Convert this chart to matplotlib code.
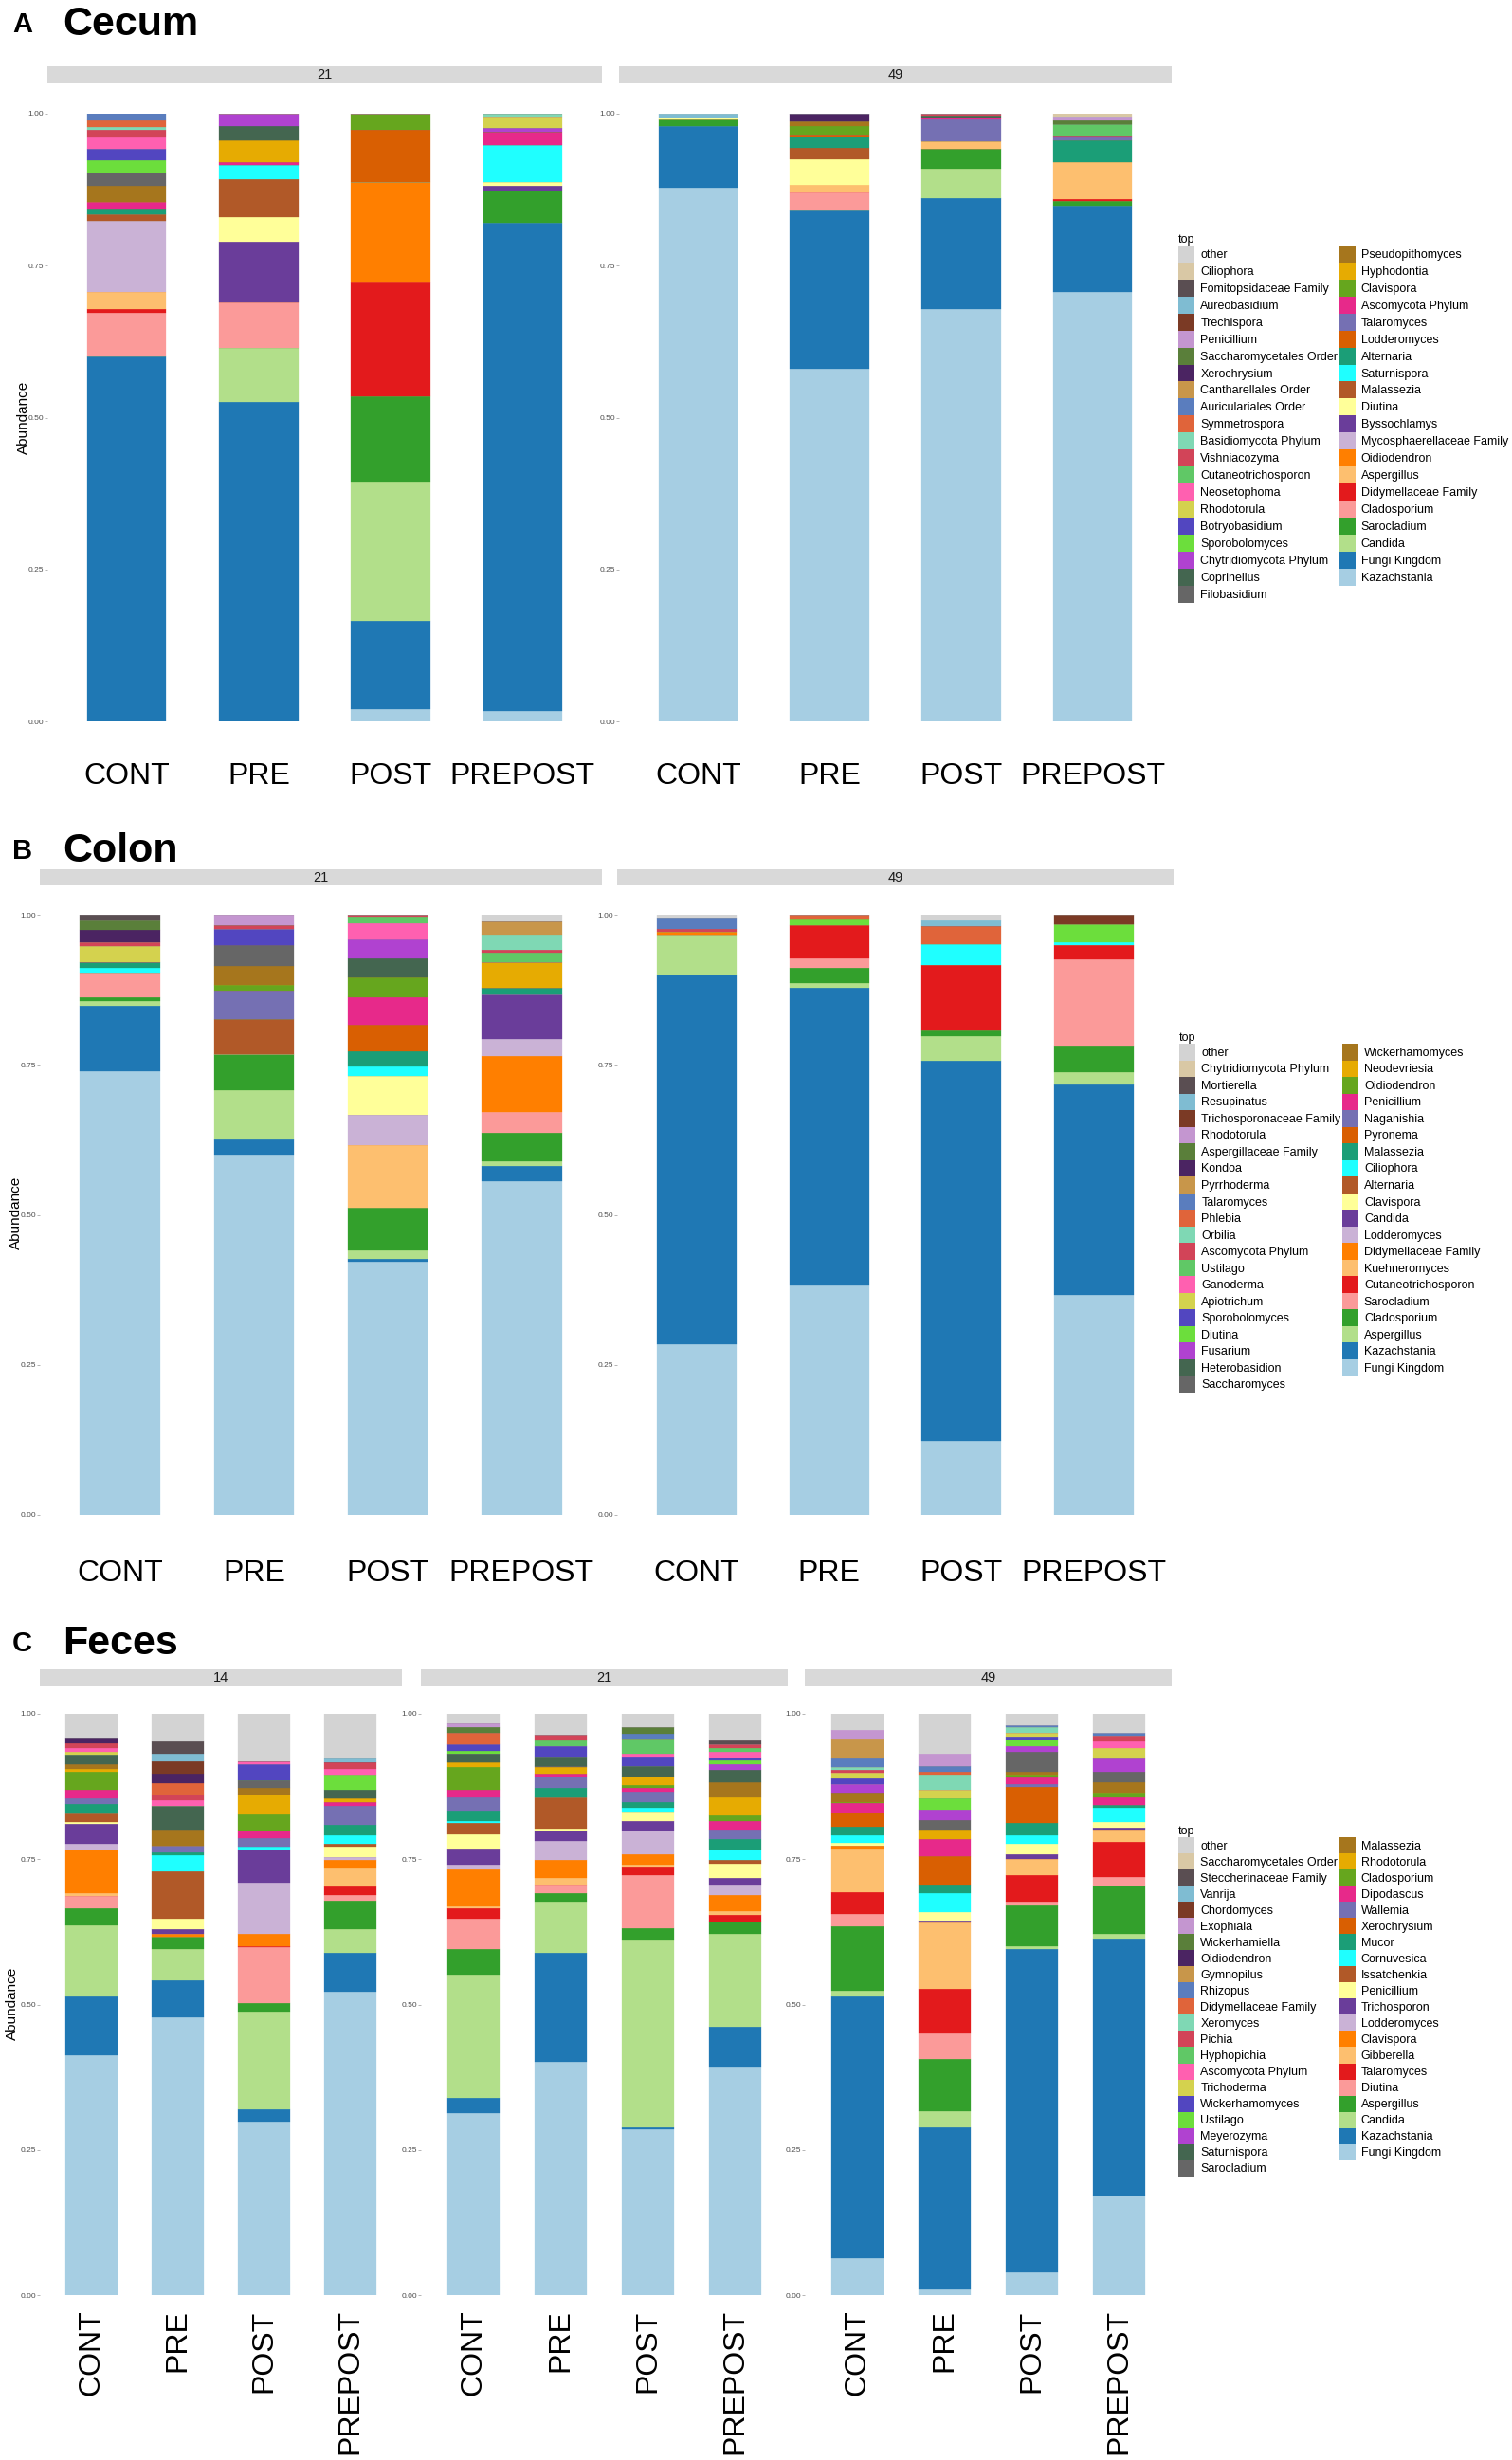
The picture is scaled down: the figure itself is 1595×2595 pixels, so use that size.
import matplotlib
matplotlib.use("Agg")
import matplotlib.pyplot as plt
from matplotlib.patches import Patch

plt.rcParams['font.family'] = ['Liberation Sans', 'DejaVu Sans']

W, H = 1595, 2595

## colours, in legend order (first = top of every stack)
palette = ["#D3D3D3", "#D9C8A5", "#5A4E52", "#7FBCD2", "#7B3A25", "#C496D0",
           "#5A7F3A", "#4B2462", "#C8964A", "#5A7DBE", "#E0643A", "#7FD8B4",
           "#D24458", "#60C866", "#FF60B0", "#D4D24E", "#5246C0", "#6CDE3C",
           "#B042D0", "#446650", "#666666",
           "#A6761D", "#E6AB02", "#66A61E", "#E7298A", "#7570B3", "#D95F02",
           "#1B9E77", "#1FFFFF", "#B15928", "#FFFF99", "#6A3D9A", "#CAB2D6",
           "#FF7F00", "#FDBF6F", "#E31A1C", "#FB9A99", "#33A02C", "#B2DF8A",
           "#1F78B4", "#A6CEE3"]

groups = ["CONT", "PRE", "POST", "PREPOST"]

cecum_taxa = ["other", "Ciliophora", "Fomitopsidaceae Family", "Aureobasidium",
              "Trechispora", "Penicillium", "Saccharomycetales Order", "Xerochrysium",
              "Cantharellales Order", "Auriculariales Order", "Symmetrospora",
              "Basidiomycota Phylum", "Vishniacozyma", "Cutaneotrichosporon",
              "Neosetophoma", "Rhodotorula", "Botryobasidium", "Sporobolomyces",
              "Chytridiomycota Phylum", "Coprinellus", "Filobasidium",
              "Pseudopithomyces", "Hyphodontia", "Clavispora", "Ascomycota Phylum",
              "Talaromyces", "Lodderomyces", "Alternaria", "Saturnispora", "Malassezia",
              "Diutina", "Byssochlamys", "Mycosphaerellaceae Family", "Oidiodendron",
              "Aspergillus", "Didymellaceae Family", "Cladosporium", "Sarocladium",
              "Candida", "Fungi Kingdom", "Kazachstania"]

colon_taxa = ["other", "Chytridiomycota Phylum", "Mortierella", "Resupinatus",
              "Trichosporonaceae Family", "Rhodotorula", "Aspergillaceae Family", "Kondoa",
              "Pyrrhoderma", "Talaromyces", "Phlebia", "Orbilia", "Ascomycota Phylum",
              "Ustilago", "Ganoderma", "Apiotrichum", "Sporobolomyces", "Diutina",
              "Fusarium", "Heterobasidion", "Saccharomyces",
              "Wickerhamomyces", "Neodevriesia", "Oidiodendron", "Penicillium",
              "Naganishia", "Pyronema", "Malassezia", "Ciliophora", "Alternaria",
              "Clavispora", "Candida", "Lodderomyces", "Didymellaceae Family",
              "Kuehneromyces", "Cutaneotrichosporon", "Sarocladium", "Cladosporium",
              "Aspergillus", "Kazachstania", "Fungi Kingdom"]

feces_taxa = ["other", "Saccharomycetales Order", "Steccherinaceae Family", "Vanrija",
              "Chordomyces", "Exophiala", "Wickerhamiella", "Oidiodendron", "Gymnopilus",
              "Rhizopus", "Didymellaceae Family", "Xeromyces", "Pichia", "Hyphopichia",
              "Ascomycota Phylum", "Trichoderma", "Wickerhamomyces", "Ustilago",
              "Meyerozyma", "Saturnispora", "Sarocladium",
              "Malassezia", "Rhodotorula", "Cladosporium", "Dipodascus", "Wallemia",
              "Xerochrysium", "Mucor", "Cornuvesica", "Issatchenkia", "Penicillium",
              "Trichosporon", "Lodderomyces", "Clavispora", "Gibberella", "Talaromyces",
              "Diutina", "Aspergillus", "Candida", "Kazachstania", "Fungi Kingdom"]

## ---- Cecum ----
cecum_21_cont = {"Fungi Kingdom": .600, "Cladosporium": .073, "Didymellaceae Family": .006,
                 "Aspergillus": .028, "Mycosphaerellaceae Family": .117, "Malassezia": .010,
                 "Alternaria": .010, "Ascomycota Phylum": .011, "Pseudopithomyces": .026,
                 "Filobasidium": .022, "Sporobolomyces": .020, "Botryobasidium": .020,
                 "Neosetophoma": .018, "Vishniacozyma": .013, "Basidiomycota Phylum": .004,
                 "Symmetrospora": .011, "Auriculariales Order": .011}
cecum_21_pre = {"Fungi Kingdom": .525, "Candida": .090, "Cladosporium": .074,
                "Byssochlamys": .101, "Diutina": .040, "Malassezia": .063,
                "Saturnispora": .022, "Ascomycota Phylum": .006, "Hyphodontia": .035,
                "Coprinellus": .024, "Chytridiomycota Phylum": .020}
cecum_21_post = {"Kazachstania": .020, "Fungi Kingdom": .145, "Candida": .229,
                 "Sarocladium": .141, "Didymellaceae Family": .187, "Oidiodendron": .165,
                 "Lodderomyces": .087, "Clavispora": .026}
cecum_21_prepost = {"Kazachstania": .017, "Fungi Kingdom": .804, "Sarocladium": .052,
                    "Byssochlamys": .009, "Diutina": .006, "Saturnispora": .061,
                    "Ascomycota Phylum": .022, "Chytridiomycota Phylum": .006,
                    "Rhodotorula": .019, "Basidiomycota Phylum": .004}
cecum_49_cont = {"Kazachstania": .878, "Fungi Kingdom": .101, "Sarocladium": .012,
                 "Diutina": .003, "Aureobasidium": .006}
cecum_49_pre = {"Kazachstania": .581, "Fungi Kingdom": .260, "Cladosporium": .030,
                "Aspergillus": .012, "Diutina": .042, "Malassezia": .019, "Alternaria": .019,
                "Lodderomyces": .003, "Clavispora": .013, "Pseudopithomyces": .009,
                "Xerochrysium": .012}
cecum_49_post = {"Kazachstania": .679, "Fungi Kingdom": .182, "Candida": .049,
                 "Sarocladium": .032, "Aspergillus": .012, "Talaromyces": .036,
                 "Ascomycota Phylum": .004, "Vishniacozyma": .003, "Coprinellus": .003}
cecum_49_prepost = {"Kazachstania": .707, "Fungi Kingdom": .141, "Sarocladium": .009,
                    "Didymellaceae Family": .003, "Aspergillus": .060, "Alternaria": .037,
                    "Talaromyces": .004, "Ascomycota Phylum": .003,
                    "Cutaneotrichosporon": .019, "Saccharomycetales Order": .006,
                    "Penicillium": .007, "Ciliophora": .004}

## ---- Colon ----
colon_21_cont = {"Fungi Kingdom": .739, "Kazachstania": .110, "Aspergillus": .008,
                 "Cladosporium": .006, "Sarocladium": .040, "Ciliophora": .009,
                 "Malassezia": .009, "Apiotrichum": .027, "Ascomycota Phylum": .006,
                 "Kondoa": .020, "Aspergillaceae Family": .017, "Mortierella": .009}
colon_21_pre = {"Fungi Kingdom": .601, "Kazachstania": .024, "Aspergillus": .083,
                "Cladosporium": .060, "Alternaria": .059, "Naganishia": .047,
                "Oidiodendron": .009, "Wickerhamomyces": .031, "Saccharomyces": .035,
                "Sporobolomyces": .027, "Ascomycota Phylum": .006, "Rhodotorula": .018}
colon_21_post = {"Fungi Kingdom": .422, "Kazachstania": .004, "Aspergillus": .014,
                 "Cladosporium": .072, "Kuehneromyces": .104, "Lodderomyces": .050,
                 "Clavispora": .065, "Ciliophora": .016, "Malassezia": .025,
                 "Pyronema": .045, "Penicillium": .045, "Oidiodendron": .033,
                 "Heterobasidion": .032, "Fusarium": .032, "Ganoderma": .027,
                 "Ustilago": .011, "Ascomycota Phylum": .003}
colon_21_prepost = {"Fungi Kingdom": .556, "Kazachstania": .025, "Aspergillus": .009,
                    "Cladosporium": .046, "Sarocladium": .035, "Didymellaceae Family": .093,
                    "Lodderomyces": .029, "Candida": .074, "Malassezia": .012,
                    "Neodevriesia": .042, "Ustilago": .016, "Ascomycota Phylum": .004,
                    "Orbilia": .026, "Pyrrhoderma": .022, "other": .011}
colon_49_cont = {"Fungi Kingdom": .284, "Kazachstania": .617, "Aspergillus": .066,
                 "Didymellaceae Family": .005, "Ascomycota Phylum": .004,
                 "Talaromyces": .020, "other": .004}
colon_49_pre = {"Fungi Kingdom": .383, "Kazachstania": .496, "Aspergillus": .008,
                "Cladosporium": .024, "Sarocladium": .017, "Cutaneotrichosporon": .055,
                "Diutina": .010, "Phlebia": .007}
colon_49_post = {"Fungi Kingdom": .124, "Kazachstania": .633, "Aspergillus": .040,
                 "Cladosporium": .010, "Cutaneotrichosporon": .109, "Ciliophora": .035,
                 "Phlebia": .030, "Resupinatus": .010, "other": .009}
colon_49_prepost = {"Fungi Kingdom": .367, "Kazachstania": .351, "Aspergillus": .019,
                    "Cladosporium": .045, "Sarocladium": .144, "Cutaneotrichosporon": .024,
                    "Ciliophora": .004, "Diutina": .030, "Trichosporonaceae Family": .016}

## ---- Feces ----
feces_14_cont = {"Fungi Kingdom": .412, "Kazachstania": .102, "Candida": .122,
                 "Aspergillus": .029, "Diutina": .022, "Gibberella": .005,
                 "Clavispora": .075, "Lodderomyces": .010, "Trichosporon": .034,
                 "Penicillium": .003, "Issatchenkia": .014, "Mucor": .017, "Wallemia": .010,
                 "Dipodascus": .014, "Cladosporium": .031, "Rhodotorula": .005,
                 "Malassezia": .009, "Saturnispora": .016, "Trichoderma": .005,
                 "Ascomycota Phylum": .007, "Pichia": .007, "Oidiodendron": .010,
                 "other": .041}
feces_14_pre = {"Fungi Kingdom": .478, "Kazachstania": .063, "Candida": .054,
                "Aspergillus": .022, "Clavispora": .004, "Trichosporon": .009,
                "Penicillium": .018, "Issatchenkia": .082, "Cornuvesica": .027,
                "Mucor": .005, "Wallemia": .012, "Malassezia": .027, "Saturnispora": .041,
                "Ascomycota Phylum": .009, "Pichia": .010, "Didymellaceae Family": .020,
                "Oidiodendron": .016, "Chordomyces": .022, "Vanrija": .012,
                "Steccherinaceae Family": .022, "other": .047}
feces_14_post = {"Fungi Kingdom": .298, "Kazachstania": .022, "Candida": .167,
                 "Aspergillus": .016, "Diutina": .095, "Talaromyces": .003,
                 "Clavispora": .021, "Lodderomyces": .088, "Trichosporon": .056,
                 "Cornuvesica": .005, "Wallemia": .015, "Dipodascus": .014,
                 "Cladosporium": .027, "Rhodotorula": .034, "Malassezia": .012,
                 "Sarocladium": .012, "Wickerhamomyces": .028, "Ascomycota Phylum": .005,
                 "other": .082}
feces_14_prepost = {"Fungi Kingdom": .522, "Kazachstania": .067, "Candida": .041,
                    "Aspergillus": .048, "Diutina": .010, "Talaromyces": .015,
                    "Gibberella": .031, "Clavispora": .014, "Lodderomyces": .005,
                    "Penicillium": .019, "Issatchenkia": .005, "Cornuvesica": .015,
                    "Mucor": .017, "Wallemia": .032, "Dipodascus": .007, "Rhodotorula": .006,
                    "Saturnispora": .015, "Ustilago": .026, "Ascomycota Phylum": .011,
                    "Pichia": .010, "Vanrija": .007, "other": .077}
feces_21_cont = {"Fungi Kingdom": .314, "Kazachstania": .026, "Candida": .211,
                 "Aspergillus": .044, "Diutina": .052, "Talaromyces": .019,
                 "Gibberella": .003, "Clavispora": .063, "Lodderomyces": .008,
                 "Trichosporon": .029, "Penicillium": .024, "Issatchenkia": .020,
                 "Cornuvesica": .003, "Mucor": .018, "Wallemia": .022, "Dipodascus": .014,
                 "Cladosporium": .038, "Rhodotorula": .008, "Saturnispora": .016,
                 "Ustilago": .005, "Wickerhamomyces": .011, "Exophiala": .006,
                 "Didymellaceae Family": .019, "Wickerhamiella": .010, "other": .017}
feces_21_pre = {"Fungi Kingdom": .401, "Kazachstania": .188, "Candida": .088,
                "Aspergillus": .014, "Diutina": .016, "Gibberella": .011,
                "Clavispora": .031, "Lodderomyces": .032, "Trichosporon": .019,
                "Penicillium": .003, "Issatchenkia": .054, "Mucor": .016, "Wallemia": .020,
                "Dipodascus": .005, "Rhodotorula": .010, "Saturnispora": .017,
                "Sarocladium": .002, "Wickerhamomyces": .017, "Hyphopichia": .010,
                "Pichia": .010, "other": .036}
feces_21_post = {"Fungi Kingdom": .286, "Kazachstania": .002, "Candida": .324,
                 "Aspergillus": .019, "Diutina": .091, "Talaromyces": .016,
                 "Gibberella": .003, "Clavispora": .017, "Lodderomyces": .042,
                 "Trichosporon": .016, "Penicillium": .016, "Cornuvesica": .007,
                 "Mucor": .010, "Wallemia": .018, "Dipodascus": .005, "Cladosporium": .005,
                 "Rhodotorula": .016, "Saturnispora": .017, "Wickerhamomyces": .016,
                 "Ascomycota Phylum": .005, "Hyphopichia": .027, "Rhizopus": .007,
                 "Wickerhamiella": .012, "other": .023}
feces_21_prepost = {"Fungi Kingdom": .393, "Kazachstania": .069, "Candida": .160,
                    "Aspergillus": .020, "Talaromyces": .012, "Gibberella": .007,
                    "Clavispora": .027, "Lodderomyces": .018, "Trichosporon": .012,
                    "Penicillium": .025, "Issatchenkia": .005, "Cornuvesica": .018,
                    "Mucor": .018, "Wallemia": .017, "Dipodascus": .014,
                    "Cladosporium": .010, "Rhodotorula": .031, "Malassezia": .027,
                    "Saturnispora": .020, "Meyerozyma": .010, "Ustilago": .007,
                    "Wickerhamomyces": .005, "Ascomycota Phylum": .010, "Hyphopichia": .007,
                    "Pichia": .005, "Steccherinaceae Family": .007, "other": .046}
feces_49_cont = {"Fungi Kingdom": .063, "Kazachstania": .451, "Candida": .009,
                 "Aspergillus": .112, "Diutina": .020, "Talaromyces": .038,
                 "Gibberella": .075, "Clavispora": .005, "Penicillium": .005,
                 "Cornuvesica": .014, "Mucor": .014, "Xerochrysium": .024,
                 "Dipodascus": .016, "Cladosporium": .003, "Malassezia": .015,
                 "Meyerozyma": .016, "Wickerhamomyces": .009, "Trichoderma": .010,
                 "Pichia": .005, "Xeromyces": .005, "Rhizopus": .015, "Gymnopilus": .034,
                 "Exophiala": .014, "other": .028}
feces_49_pre = {"Fungi Kingdom": .009, "Kazachstania": .280, "Candida": .027,
                "Aspergillus": .090, "Diutina": .045, "Talaromyces": .076,
                "Gibberella": .114, "Penicillium": .015, "Trichosporon": .003,
                "Cornuvesica": .033, "Mucor": .015, "Xerochrysium": .049,
                "Dipodascus": .029, "Rhodotorula": .016, "Sarocladium": .017,
                "Meyerozyma": .018, "Ustilago": .018, "Trichoderma": .016,
                "Xeromyces": .026, "Didymellaceae Family": .005, "Rhizopus": .010,
                "Exophiala": .020, "other": .069}
feces_49_post = {"Fungi Kingdom": .039, "Kazachstania": .556, "Candida": .005,
                 "Aspergillus": .070, "Diutina": .007, "Talaromyces": .046,
                 "Gibberella": .027, "Trichosporon": .009, "Penicillium": .017,
                 "Cornuvesica": .015, "Mucor": .022, "Xerochrysium": .061,
                 "Wallemia": .005, "Dipodascus": .012, "Cladosporium": .005,
                 "Malassezia": .005, "Sarocladium": .034, "Meyerozyma": .009,
                 "Ustilago": .012, "Wickerhamomyces": .005, "Trichoderma": .006,
                 "Xeromyces": .010, "Rhizopus": .004, "other": .019}
feces_49_prepost = {"Fungi Kingdom": .172, "Kazachstania": .441, "Candida": .009,
                    "Aspergillus": .082, "Diutina": .015, "Talaromyces": .061,
                    "Gibberella": .021, "Trichosporon": .003, "Penicillium": .010,
                    "Cornuvesica": .024, "Mucor": .005, "Cladosporium": .007,
                    "Dipodascus": .014, "Malassezia": .018, "Sarocladium": .019,
                    "Meyerozyma": .022, "Trichoderma": .018, "Ascomycota Phylum": .012,
                    "Pichia": .009, "Rhizopus": .005, "other": .033}


fig = plt.figure(figsize=(W / 100, H / 100), dpi=100)


def add_ax(x0, y0, x1, y1):
  # pixel box, measured from the top left of the figure
  return fig.add_axes([x0 / W, 1 - y1 / H, (x1 - x0) / W, (y1 - y0) / H])


def draw_facet(label, x0, x1, strip, plot, taxa, bars, pad, rot):
  s = add_ax(x0, strip[0], x1, strip[1])
  s.set_facecolor("#D9D9D9")
  s.set_xticks([])
  s.set_yticks([])
  for sp in s.spines.values():
    sp.set_visible(False)
  s.text(0.5, 0.5, label, ha="center", va="center", fontsize=10.5, color="#1A1A1A",
         transform=s.transAxes)

  ax = add_ax(x0, plot[0], x1, plot[1])
  x = list(range(1, len(groups) + 1))
  bottoms = [0.0] * len(groups)
  # ggplot stacks the first legend level on top, so draw from the last one up
  for i in range(len(taxa) - 1, -1, -1):
    t = taxa[i]
    h = [b.get(t, 0.0) for b in bars]
    if sum(h) == 0:
      continue
    ax.bar(x, h, bottom=bottoms, width=0.6, color=palette[i],
           edgecolor=palette[i], linewidth=0.2)
    bottoms = [bottoms[k] + h[k] for k in range(len(h))]
  ax.set_xlim(0.4, 4.6)
  ax.set_ylim(0, 1)
  for sp in ax.spines.values():
    sp.set_visible(False)
  ax.set_yticks([0, 0.25, 0.5, 0.75, 1.0])
  ax.set_yticklabels(["0.00", "0.25", "0.50", "0.75", "1.00"])
  ax.tick_params(axis="y", length=2, width=0.5, color="#999999", labelsize=6,
                 labelcolor="#4D4D4D", pad=1)
  ax.set_xticks(x)
  ax.set_xticklabels(groups, fontsize=23, rotation=rot)
  ax.tick_params(axis="x", length=0, pad=pad)
  return ax


def draw_legend(taxa, x, y, hh):
  handles = [Patch(facecolor=palette[i], edgecolor="none", label=taxa[i])
             for i in range(len(taxa))]
  fig.legend(handles=handles, ncol=2, loc="upper left",
             bbox_to_anchor=(x / W, 1 - y / H), frameon=False, fontsize=9,
             title="top", title_fontsize=9, alignment="left",
             handlelength=1.36, handleheight=hh, handletextpad=0.5,
             labelspacing=0.0, columnspacing=0.1, borderpad=0, borderaxespad=0)


def draw_title(letter, name, y):
  fig.text(13 / W, 1 - y / H, letter, fontsize=21, fontweight="bold", va="baseline")
  fig.text(66 / W, 1 - (y + 3) / H, name, fontsize=31, fontweight="bold", va="baseline")


# A  Cecum
draw_title("A", "Cecum", 34)
draw_facet("21", 50, 635, (70, 88), (120, 761), cecum_taxa,
           [cecum_21_cont, cecum_21_pre, cecum_21_post, cecum_21_prepost], 31, 0)
draw_facet("49", 653, 1236, (70, 88), (120, 761), cecum_taxa,
           [cecum_49_cont, cecum_49_pre, cecum_49_post, cecum_49_prepost], 31, 0)
fig.text(25 / W, 1 - 440 / H, "Abundance", rotation=90, ha="center", va="center",
         fontsize=11)
draw_legend(cecum_taxa, 1243, 247, 1.83)

# B  Colon
draw_title("B", "Colon", 906)
draw_facet("21", 42, 635, (917, 934), (965, 1598), colon_taxa,
           [colon_21_cont, colon_21_pre, colon_21_post, colon_21_prepost], 34, 0)
draw_facet("49", 651, 1238, (917, 934), (965, 1598), colon_taxa,
           [colon_49_cont, colon_49_pre, colon_49_post, colon_49_prepost], 34, 0)
fig.text(17 / W, 1 - 1279 / H, "Abundance", rotation=90, ha="center", va="center",
         fontsize=11)
draw_legend(colon_taxa, 1244, 1089, 1.78)

# C  Feces
draw_title("C", "Feces", 1742)
draw_facet("14", 42, 424, (1761, 1778), (1808, 2421), feces_taxa,
           [feces_14_cont, feces_14_pre, feces_14_post, feces_14_prepost], 11, 90)
draw_facet("21", 444, 831, (1761, 1778), (1808, 2421), feces_taxa,
           [feces_21_cont, feces_21_pre, feces_21_post, feces_21_prepost], 11, 90)
draw_facet("49", 849, 1236, (1761, 1778), (1808, 2421), feces_taxa,
           [feces_49_cont, feces_49_pre, feces_49_post, feces_49_prepost], 11, 90)
fig.text(13 / W, 1 - 2113 / H, "Abundance", rotation=90, ha="center", va="center",
         fontsize=11)
draw_legend(feces_taxa, 1243, 1926, 1.72)

fig.savefig("out.png", dpi=100, facecolor="white")
